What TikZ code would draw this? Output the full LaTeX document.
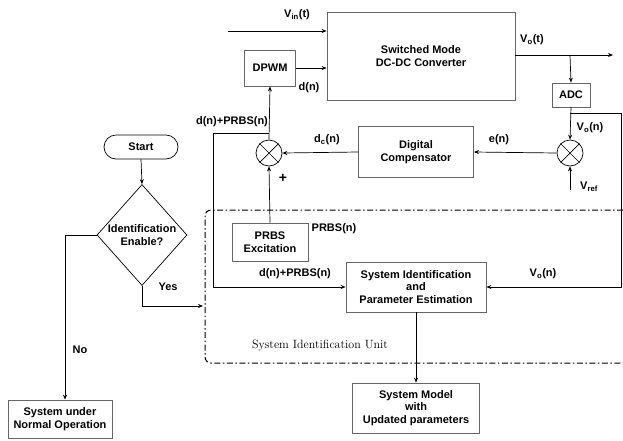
\documentclass[tikz,border=0pt]{standalone}
\usepackage{fontspec}
\setsansfont{Liberation Sans}
\usepackage{tikz}
\usetikzlibrary{shapes.geometric,shapes.misc,arrows.meta,positioning,calc}

\begin{document}
\begin{tikzpicture}[x=1pt,y=-1pt,
  every node/.style={align=center,font=\sffamily\bfseries\fontsize{11}{12.5}\selectfont,inner sep=1pt},%
  e/.style={-{Stealth[length=5pt,width=4pt]},line width=.7pt},%
  l/.style={line width=.7pt},%
  bx/.style={draw=black!60,line width=.8pt,inner sep=2pt},%
  sm/.style={circle,draw,line width=.7pt,minimum size=26pt,inner sep=0pt},%
  dd/.style={dash pattern=on 6pt off 2.5pt on 1.5pt off 2.5pt,line width=1pt},%
  ]
  \useasboundingbox (0,0) rectangle (623,440);
  % blocks
  \node (conv)  [bx,minimum width=188pt,minimum height=88pt] at (421,56) {Switched Mode\\DC-DC Converter};
  \node (dpwm)  [bx,minimum width=51pt,minimum height=36pt] at (270,68) {DPWM};
  \node (adc)   [bx,minimum width=38pt,minimum height=24pt] at (571,95) {ADC};
  \node (comp)  [bx,minimum width=115pt,minimum height=51pt] at (416,152) {Digital\\Compensator};
  \node (sr)    [sm] at (570,153) {};
  \node (sl)    [sm] at (269,153) {};
  \node (prbs)  [bx,minimum width=76pt,minimum height=38pt] at (270,242) {PRBS\\Excitation};
  \node (sysid) [bx,minimum width=140pt,minimum height=50pt] at (416,287) {System Identification\\and\\Parameter Estimation};
  \node (model) [bx,minimum width=127pt,minimum height=50pt] at (416,408) {System Model\\with\\Updated parameters};
  % flow chart
  \node (start) [draw,rounded rectangle,line width=.7pt,minimum width=76pt,minimum height=24pt] at (141,147) {Start};
  \node (dec)   [draw,diamond,line width=.7pt,inner sep=0pt,minimum width=90pt,minimum height=101pt,
                 label=center:{Identification\\Enable?}] at (142,235) {};
  \node (norm)  [bx,minimum width=104pt,minimum height=38pt] at (60,419) {System under\\Normal Operation};
  \foreach \s in {sl,sr}
    \draw[l] (\s.45) -- (\s.225) (\s.135) -- (\s.315);
  % points
  \coordinate (vin) at (228,31);
  \coordinate (vout) at (613,55);
  \coordinate (tap) at (570,55);
  \coordinate (vref) at (570,190);
  \coordinate (ja) at (570,113);
  \coordinate (jb) at (621,113);
  \coordinate (jc) at (269,133);
  \coordinate (jd) at (213,133);
  \coordinate (yes) at (142,306);
  \coordinate (unit) at (203,306);
  \coordinate (no) at (65,235);
  % unit border
  \draw[dd,rounded corners=6pt] (623,210) -- (205,210) -- (205,363) -- (623,363);
  \node (unitlbl) [font=\rmfamily\fontsize{12}{13}\selectfont] at (320,345) {System Identification Unit};
  % connectors
  \draw [e] (vin) -- (vin -| conv.west);
  \draw [e] (dpwm.east) -- (dpwm.east -| conv.west);
  \draw [e] (conv.east |- vout) -- (vout);
  \draw [e] (tap) -- (adc.north);
  \draw [e] (adc.south) -- (sr.north);
  \draw [e] (ja) -- (jb) -- (jb |- sysid.east) -- (sysid.east);
  \draw [e] (vref) -- (sr.south);
  \draw [e] (sr.west) -- (comp.east);
  \draw [e] (comp.west) -- (sl.east);
  \draw [e] (sl.north) -- (dpwm.south);
  \draw [e] (prbs.north) -- (sl.south);
  \draw [e] (jc) -- (jd) -- (jd |- sysid.west) -- (sysid.west);
  \draw [e] (sysid.south) -- (model.north);
  \draw [e] (start.south) -- (dec.north);
  \draw [e] (dec.south) -- (yes) -- (unit);
  \draw [e] (dec.west) -- (no) -- (no |- norm.north);
  % labels
  \node (lvin)  at (297,15)  {V\textsubscript{in}(t)};
  \node (lvo)   at (532,40)  {V\textsubscript{o}(t)};
  \node (ldn)   at (309,88)  {d(n)};
  \node (lvon)  at (590,128) {V\textsubscript{o}(n)};
  \node (lvref) at (589,187) {V\textsubscript{ref}};
  \node (len)   at (499,140) {e(n)};
  \node (ldc)   at (327,140) {d\textsubscript{c}(n)};
  \node (lplus) [font=\sffamily\bfseries\fontsize{14}{14}\selectfont] at (283,178) {+};
  \node (ldp)   at (232,122) {d(n)+PRBS(n)};
  \node (lprbs) at (334,229) {PRBS(n)};
  \node (ldp2)  at (295,274) {d(n)+PRBS(n)};
  \node (lvo2)  at (543,274) {V\textsubscript{o}(n)};
  \node (lyes)  at (168,287) {Yes};
  \node (lno)   at (80,350)  {No};
\end{tikzpicture}
\end{document}
